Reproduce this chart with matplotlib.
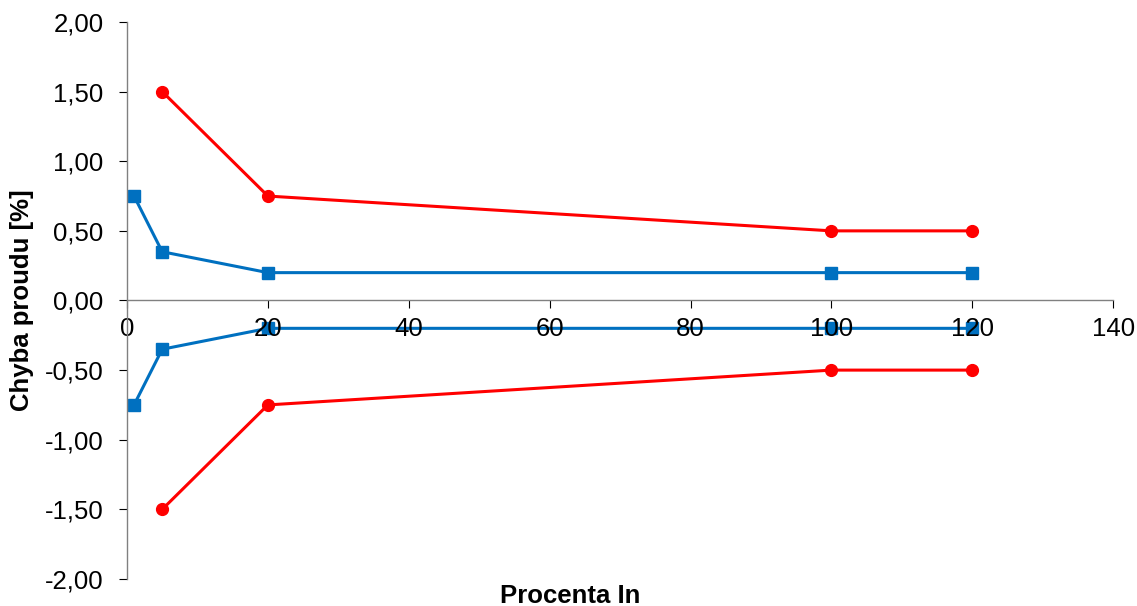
import matplotlib
matplotlib.use('Agg')
import matplotlib.pyplot as plt
from matplotlib.ticker import FuncFormatter

plt.rcParams['font.family'] = ['Liberation Sans', 'DejaVu Sans']

# data
x_blue = [1, 5, 20, 100, 120]
y_blue_pos = [0.75, 0.35, 0.20, 0.20, 0.20]
y_blue_neg = [-0.75, -0.35, -0.20, -0.20, -0.20]
x_red = [5, 20, 100, 120]
y_red_pos = [1.50, 0.75, 0.50, 0.50]
y_red_neg = [-1.50, -0.75, -0.50, -0.50]

blue = '#0070C0'
red = '#FF0000'

fig = plt.figure(figsize=(11.37, 6.06), dpi=100)
ax = fig.add_axes([0.1117, 0.0446, 0.8673, 0.9191])

# lines under the axis so tick labels sit on top of them
ax.plot(x_blue, y_blue_pos, '-s', color=blue, lw=2.2, ms=8.5, clip_on=False, zorder=1)
ax.plot(x_blue, y_blue_neg, '-s', color=blue, lw=2.2, ms=8.5, clip_on=False, zorder=1)
ax.plot(x_red, y_red_pos, '-o', color=red, lw=2.2, ms=8.5, clip_on=False, zorder=1)
ax.plot(x_red, y_red_neg, '-o', color=red, lw=2.2, ms=8.5, clip_on=False, zorder=1)

ax.set_xlim(0, 140)
ax.set_ylim(-2, 2)
ax.set_xticks(range(0, 141, 20))
ax.set_yticks([-2, -1.5, -1, -0.5, 0, 0.5, 1, 1.5, 2])
ax.yaxis.set_major_formatter(FuncFormatter(lambda v, p: f"{v:.2f}".replace('.', ',')))

ax.spines['top'].set_visible(False)
ax.spines['right'].set_visible(False)
ax.spines['bottom'].set_position(('data', 0))
for s in ('left', 'bottom'):
    ax.spines[s].set_color('#808080')
    ax.spines[s].set_linewidth(1.0)

ax.tick_params(axis='both', labelsize=18.5, color='black', length=6, width=0.8, direction='out')
ax.tick_params(axis='y', pad=11)
ax.tick_params(axis='x', pad=6)

fig.text(22 / 1137, 1 - 300 / 606, 'Chyba proudu [%]', fontsize=18.5, fontweight='bold',
         rotation=90, ha='center', va='center')
fig.text(570 / 1137, 1 - 596 / 606, 'Procenta In', fontsize=18.5, fontweight='bold',
         ha='center', va='center')

fig.savefig('out.png', dpi=100)
